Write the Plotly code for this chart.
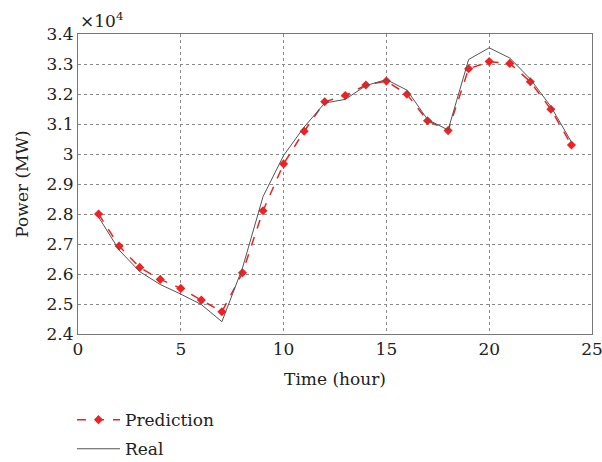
import plotly.graph_objects as go

hours = list(range(1, 25))
prediction = [2.800, 2.693, 2.622, 2.582, 2.552, 2.513, 2.474, 2.604, 2.811, 2.967,
              3.076, 3.174, 3.195, 3.230, 3.243, 3.199, 3.111, 3.078, 3.284, 3.308,
              3.302, 3.241, 3.149, 3.030]
real = [2.790, 2.680, 2.608, 2.565, 2.533, 2.498, 2.441, 2.620, 2.858, 2.995,
        3.090, 3.170, 3.182, 3.228, 3.248, 3.213, 3.115, 3.080, 3.315, 3.354,
        3.320, 3.250, 3.158, 3.040]

font_fam = "DejaVu Serif"
txt = "#222222"

fig = go.Figure()
fig.add_trace(go.Scatter(
    x=hours, y=prediction, name="Prediction", mode="lines+markers", legendgroup="p",
    line=dict(color="#ee2222", width=1.5, dash="dash"),
    marker=dict(symbol="diamond", size=7, color="#ee2222"),
))
fig.add_trace(go.Scatter(
    x=hours, y=real, name="Real", mode="lines", legendgroup="r",
    line=dict(color="#555555", width=1),
))

axis_common = dict(
    showgrid=True, gridcolor="#8a8a8a", griddash="dot", gridwidth=1,
    showline=True, linecolor="#777777", linewidth=1, mirror=True,
    ticks="", zeroline=False, automargin=False, ticklabeloverflow="allow",
    tickfont=dict(family=font_fam, size=17, color=txt),
)
fig.update_xaxes(range=[0, 25], dtick=5,
                 title=dict(text="Time (hour)", font=dict(family=font_fam, size=17, color=txt), standoff=14),
                 **axis_common)
fig.update_yaxes(range=[2.4, 3.4], dtick=0.1,
                 title=dict(text="Power (MW)", font=dict(family=font_fam, size=17, color=txt), standoff=13),
                 **axis_common)

fig.add_annotation(
    x=0, y=1, xref="paper", yref="paper", xanchor="left", yanchor="bottom",
    text="×10<sup>4</sup>", showarrow=False, yshift=1,
    font=dict(family=font_fam, size=17, color=txt),
)

fig.update_layout(
    width=602, height=462,
    font=dict(family=font_fam, color=txt),
    margin=dict(l=78, r=10, t=34, b=128, autoexpand=False),
    plot_bgcolor="white", paper_bgcolor="white",
    showlegend=True,
    legend=dict(
        x=-0.0117, y=-0.227, xanchor="left", yanchor="top",
        font=dict(family=font_fam, size=17, color=txt),
        bgcolor="rgba(0,0,0,0)", tracegroupgap=4, itemwidth=43,
    ),
)

fig.write_html("out.html")
